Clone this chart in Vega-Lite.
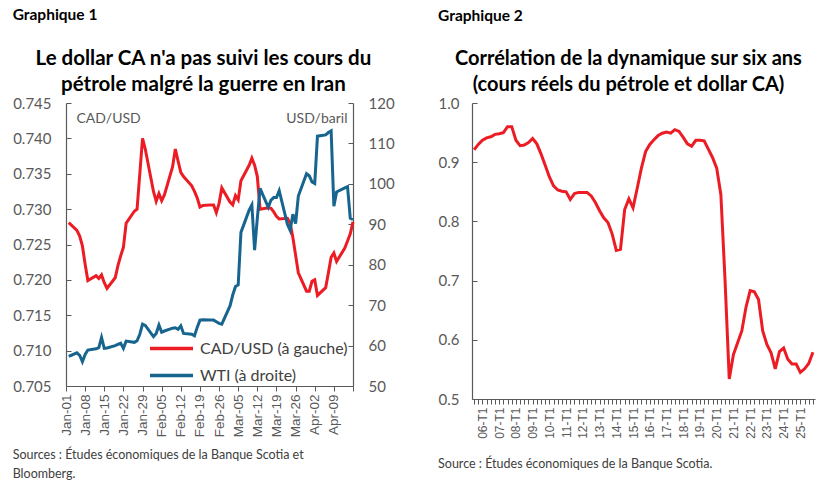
{
  "$schema": "https://vega.github.io/schema/vega-lite/v6.json",
  "background": "white",
  "padding": {"left": 12, "top": 8, "right": 4, "bottom": 0},
  "spacing": 43,
  "datasets": {
    "fx": [
      {"d": "2026-01-02", "cad": 0.7281, "wti": 57.3},
      {"d": "2026-01-05", "cad": 0.7270, "wti": 58.2},
      {"d": "2026-01-06", "cad": 0.7262, "wti": 57.6},
      {"d": "2026-01-07", "cad": 0.7248, "wti": 56.0},
      {"d": "2026-01-08", "cad": 0.7222, "wti": 57.8},
      {"d": "2026-01-09", "cad": 0.7199, "wti": 58.9},
      {"d": "2026-01-12", "cad": 0.7206, "wti": 59.2},
      {"d": "2026-01-13", "cad": 0.7202, "wti": 59.5},
      {"d": "2026-01-14", "cad": 0.7207, "wti": 62.0},
      {"d": "2026-01-15", "cad": 0.7196, "wti": 59.3},
      {"d": "2026-01-16", "cad": 0.7188, "wti": 59.4},
      {"d": "2026-01-19", "cad": 0.7203, "wti": 60.0},
      {"d": "2026-01-20", "cad": 0.7220, "wti": 60.3},
      {"d": "2026-01-21", "cad": 0.7234, "wti": 60.6},
      {"d": "2026-01-22", "cad": 0.7246, "wti": 59.3},
      {"d": "2026-01-23", "cad": 0.7280, "wti": 61.1},
      {"d": "2026-01-26", "cad": 0.7297, "wti": 60.8},
      {"d": "2026-01-27", "cad": 0.7300, "wti": 61.2},
      {"d": "2026-01-28", "cad": 0.7350, "wti": 62.8},
      {"d": "2026-01-29", "cad": 0.7400, "wti": 65.3},
      {"d": "2026-01-30", "cad": 0.7385, "wti": 65.0},
      {"d": "2026-02-02", "cad": 0.7325, "wti": 62.2},
      {"d": "2026-02-03", "cad": 0.7311, "wti": 63.0},
      {"d": "2026-02-04", "cad": 0.7322, "wti": 65.1},
      {"d": "2026-02-05", "cad": 0.7312, "wti": 63.3},
      {"d": "2026-02-06", "cad": 0.7320, "wti": 63.6},
      {"d": "2026-02-09", "cad": 0.7360, "wti": 64.3},
      {"d": "2026-02-10", "cad": 0.7385, "wti": 64.4},
      {"d": "2026-02-11", "cad": 0.7368, "wti": 64.0},
      {"d": "2026-02-12", "cad": 0.7352, "wti": 64.9},
      {"d": "2026-02-13", "cad": 0.7346, "wti": 63.0},
      {"d": "2026-02-16", "cad": 0.7333, "wti": 62.8},
      {"d": "2026-02-17", "cad": 0.7325, "wti": 62.4},
      {"d": "2026-02-18", "cad": 0.7316, "wti": 64.5},
      {"d": "2026-02-19", "cad": 0.7303, "wti": 66.3},
      {"d": "2026-02-20", "cad": 0.7305, "wti": 66.4},
      {"d": "2026-02-23", "cad": 0.7306, "wti": 66.3},
      {"d": "2026-02-24", "cad": 0.7306, "wti": 66.3},
      {"d": "2026-02-25", "cad": 0.7295, "wti": 65.9},
      {"d": "2026-02-26", "cad": 0.7308, "wti": 65.5},
      {"d": "2026-02-27", "cad": 0.7330, "wti": 65.3},
      {"d": "2026-03-02", "cad": 0.7310, "wti": 69.8},
      {"d": "2026-03-03", "cad": 0.7306, "wti": 72.5},
      {"d": "2026-03-04", "cad": 0.7319, "wti": 74.6},
      {"d": "2026-03-05", "cad": 0.7313, "wti": 75.0},
      {"d": "2026-03-06", "cad": 0.7340, "wti": 88.0},
      {"d": "2026-03-09", "cad": 0.7362, "wti": 93.5},
      {"d": "2026-03-10", "cad": 0.7372, "wti": 94.8},
      {"d": "2026-03-11", "cad": 0.7362, "wti": 83.6},
      {"d": "2026-03-12", "cad": 0.7346, "wti": 91.5},
      {"d": "2026-03-13", "cad": 0.7300, "wti": 98.9},
      {"d": "2026-03-16", "cad": 0.7302, "wti": 94.2},
      {"d": "2026-03-17", "cad": 0.7301, "wti": 96.0},
      {"d": "2026-03-18", "cad": 0.7296, "wti": 96.6},
      {"d": "2026-03-19", "cad": 0.7290, "wti": 96.6},
      {"d": "2026-03-20", "cad": 0.7286, "wti": 98.3},
      {"d": "2026-03-23", "cad": 0.7287, "wti": 90.0},
      {"d": "2026-03-24", "cad": 0.7280, "wti": 88.5},
      {"d": "2026-03-25", "cad": 0.7260, "wti": 92.5},
      {"d": "2026-03-26", "cad": 0.7235, "wti": 90.2},
      {"d": "2026-03-27", "cad": 0.7210, "wti": 97.0},
      {"d": "2026-03-30", "cad": 0.7184, "wti": 102.5},
      {"d": "2026-03-31", "cad": 0.7184, "wti": 102.0},
      {"d": "2026-04-01", "cad": 0.7198, "wti": 100.5},
      {"d": "2026-04-02", "cad": 0.7200, "wti": 100.1},
      {"d": "2026-04-03", "cad": 0.7178, "wti": 111.8},
      {"d": "2026-04-06", "cad": 0.7189, "wti": 112.1},
      {"d": "2026-04-07", "cad": 0.7210, "wti": 112.7},
      {"d": "2026-04-08", "cad": 0.7232, "wti": 113.1},
      {"d": "2026-04-09", "cad": 0.7238, "wti": 94.5},
      {"d": "2026-04-10", "cad": 0.7226, "wti": 98.0},
      {"d": "2026-04-13", "cad": 0.7245, "wti": 99.0},
      {"d": "2026-04-14", "cad": 0.7255, "wti": 99.3},
      {"d": "2026-04-15", "cad": 0.7265, "wti": 91.5},
      {"d": "2026-04-16", "cad": 0.7282, "wti": 91.2}
    ],
    "corr": [
      {"q": "05-T3", "r": 0.921}, {"q": "05-T4", "r": 0.930},
      {"q": "06-T1", "r": 0.937}, {"q": "06-T2", "r": 0.941}, {"q": "06-T3", "r": 0.943}, {"q": "06-T4", "r": 0.947},
      {"q": "07-T1", "r": 0.948}, {"q": "07-T2", "r": 0.950}, {"q": "07-T3", "r": 0.960}, {"q": "07-T4", "r": 0.960},
      {"q": "08-T1", "r": 0.937}, {"q": "08-T2", "r": 0.928}, {"q": "08-T3", "r": 0.929}, {"q": "08-T4", "r": 0.933},
      {"q": "09-T1", "r": 0.940}, {"q": "09-T2", "r": 0.931}, {"q": "09-T3", "r": 0.914}, {"q": "09-T4", "r": 0.895},
      {"q": "10-T1", "r": 0.875}, {"q": "10-T2", "r": 0.860}, {"q": "10-T3", "r": 0.853}, {"q": "10-T4", "r": 0.851},
      {"q": "11-T1", "r": 0.850}, {"q": "11-T2", "r": 0.837}, {"q": "11-T3", "r": 0.847}, {"q": "11-T4", "r": 0.849},
      {"q": "12-T1", "r": 0.849}, {"q": "12-T2", "r": 0.849}, {"q": "12-T3", "r": 0.843}, {"q": "12-T4", "r": 0.832},
      {"q": "13-T1", "r": 0.818}, {"q": "13-T2", "r": 0.806}, {"q": "13-T3", "r": 0.798}, {"q": "13-T4", "r": 0.779},
      {"q": "14-T1", "r": 0.751}, {"q": "14-T2", "r": 0.753}, {"q": "14-T3", "r": 0.820}, {"q": "14-T4", "r": 0.838},
      {"q": "15-T1", "r": 0.823}, {"q": "15-T2", "r": 0.856}, {"q": "15-T3", "r": 0.890}, {"q": "15-T4", "r": 0.918},
      {"q": "16-T1", "r": 0.930}, {"q": "16-T2", "r": 0.938}, {"q": "16-T3", "r": 0.945}, {"q": "16-T4", "r": 0.949},
      {"q": "17-T1", "r": 0.951}, {"q": "17-T2", "r": 0.949}, {"q": "17-T3", "r": 0.955}, {"q": "17-T4", "r": 0.952},
      {"q": "18-T1", "r": 0.942}, {"q": "18-T2", "r": 0.931}, {"q": "18-T3", "r": 0.927}, {"q": "18-T4", "r": 0.937},
      {"q": "19-T1", "r": 0.937}, {"q": "19-T2", "r": 0.936}, {"q": "19-T3", "r": 0.922}, {"q": "19-T4", "r": 0.908},
      {"q": "20-T1", "r": 0.890}, {"q": "20-T2", "r": 0.845}, {"q": "20-T3", "r": 0.700}, {"q": "20-T4", "r": 0.534},
      {"q": "21-T1", "r": 0.575}, {"q": "21-T2", "r": 0.595}, {"q": "21-T3", "r": 0.615}, {"q": "21-T4", "r": 0.655},
      {"q": "22-T1", "r": 0.683}, {"q": "22-T2", "r": 0.681}, {"q": "22-T3", "r": 0.668}, {"q": "22-T4", "r": 0.615},
      {"q": "23-T1", "r": 0.592}, {"q": "23-T2", "r": 0.578}, {"q": "23-T3", "r": 0.551}, {"q": "23-T4", "r": 0.580},
      {"q": "24-T1", "r": 0.586}, {"q": "24-T2", "r": 0.567}, {"q": "24-T3", "r": 0.559}, {"q": "24-T4", "r": 0.559},
      {"q": "25-T1", "r": 0.545}, {"q": "25-T2", "r": 0.551}, {"q": "25-T3", "r": 0.560}, {"q": "25-T4", "r": 0.579}
    ]
  },
  "hconcat": [
    {
      "title": {"text": "Graphique 1", "anchor": "start", "frame": "bounds", "fontSize": 15.5, "font": "Lato", "fontWeight": "bold", "color": "#000000", "offset": 25},
      "vconcat": [
        {
          "title": {"text": ["Sources : Études économiques de la Banque Scotia et", "Bloomberg."], "orient": "bottom", "anchor": "start", "frame": "bounds", "fontSize": 12.5, "font": "Lato", "fontWeight": "normal", "color": "#404040", "lineHeight": 19, "offset": 12},
          "vconcat": [
            {
              "width": 287,
              "height": 283,
              "title": {"text": ["Le dollar CA n'a pas suivi les cours du", "pétrole malgré la guerre en Iran"], "anchor": "middle", "frame": "bounds", "fontSize": 20.5, "font": "Lato", "fontWeight": "bold", "color": "#000000", "lineHeight": 26, "offset": 1},
              "data": {"name": "fx", "format": {"parse": {"d": "date:'%Y-%m-%d'"}}},
              "layer": [
                {
                  "mark": {"type": "line", "strokeWidth": 3},
                  "encoding": {
                    "x": {
                      "field": "d", "type": "temporal",
                      "scale": {"domain": [{"year": 2026, "month": 1, "date": 1}, {"year": 2026, "month": 4, "date": 16}]},
                      "axis": {
                        "title": null,
                        "values": [
                          {"year": 2026, "month": 1, "date": 1}, {"year": 2026, "month": 1, "date": 8}, {"year": 2026, "month": 1, "date": 15},
                          {"year": 2026, "month": 1, "date": 22}, {"year": 2026, "month": 1, "date": 29}, {"year": 2026, "month": 2, "date": 5},
                          {"year": 2026, "month": 2, "date": 12}, {"year": 2026, "month": 2, "date": 19}, {"year": 2026, "month": 2, "date": 26},
                          {"year": 2026, "month": 3, "date": 5}, {"year": 2026, "month": 3, "date": 12}, {"year": 2026, "month": 3, "date": 19},
                          {"year": 2026, "month": 3, "date": 26}, {"year": 2026, "month": 4, "date": 2}, {"year": 2026, "month": 4, "date": 9},
                          {"year": 2026, "month": 4, "date": 16}
                        ],
                        "tickCount": 30,
                        "labelExpr": "datum.value >= datetime(2026, 3, 15) ? '' : timeFormat(datum.value, '%b-%d')",
                        "labelAngle": -90,
                        "labelOverlap": false,
                        "labelBound": false,
                        "labelFont": "Liberation Sans",
                        "labelFontSize": 13.5,
                        "tickSize": 5,
                        "labelPadding": 3
                      }
                    },
                    "y": {
                      "field": "cad", "type": "quantitative",
                      "scale": {"domain": [0.705, 0.745], "zero": false, "nice": false},
                      "axis": {
                        "orient": "left",
                        "values": [0.705, 0.71, 0.715, 0.72, 0.725, 0.73, 0.735, 0.74, 0.745],
                        "format": ".3f",
                        "title": "CAD/USD",
                        "titleAngle": 0,
                        "titleAlign": "left",
                        "titleBaseline": "top",
                        "titleX": 10,
                        "titleY": 8,
                        "tickSize": -5,
                        "labelFontSize": 15,
                        "labelPadding": 20
                      }
                    },
                    "color": {
                      "datum": "CAD/USD (à gauche)", "type": "nominal",
                      "scale": {"domain": ["CAD/USD (à gauche)", "WTI (à droite)"], "range": ["#EC1C24", "#17658E"]},
                      "legend": {
                        "title": null,
                        "orient": "none",
                        "legendX": 82,
                        "legendY": 233,
                        "symbolType": "stroke",
                        "symbolSize": 1849,
                        "symbolStrokeWidth": 3.5,
                        "clipHeight": 25,
                        "labelFont": "Lato",
                        "labelFontSize": 16,
                        "labelColor": "#404040",
                        "labelOffset": 5,
                        "rowPadding": 2
                      }
                    }
                  }
                },
                {
                  "mark": {"type": "line", "strokeWidth": 3},
                  "encoding": {
                    "x": {"field": "d", "type": "temporal"},
                    "y": {
                      "field": "wti", "type": "quantitative",
                      "scale": {"domain": [50, 120], "zero": false, "nice": false},
                      "axis": {
                        "orient": "right",
                        "values": [50, 60, 70, 80, 90, 100, 110, 120],
                        "title": "USD/baril",
                        "titleAngle": 0,
                        "titleAlign": "right",
                        "titleBaseline": "top",
                        "titleX": -6,
                        "titleY": 8,
                        "tickSize": -5,
                        "labelFontSize": 15,
                        "labelPadding": 20
                      }
                    },
                    "color": {"datum": "WTI (à droite)", "type": "nominal"}
                  }
                }
              ],
              "resolve": {"scale": {"y": "independent"}}
            }
          ]
        }
      ]
    },
    {
      "title": {"text": "Graphique 2", "anchor": "start", "frame": "bounds", "fontSize": 15.5, "font": "Lato", "fontWeight": "bold", "color": "#000000", "offset": 25},
      "vconcat": [
        {
          "title": {"text": "Source : Études économiques de la Banque Scotia.", "orient": "bottom", "anchor": "start", "frame": "bounds", "fontSize": 12.5, "font": "Lato", "fontWeight": "normal", "color": "#404040", "offset": 20},
          "vconcat": [
            {
              "width": 343,
              "height": 296,
              "title": {"text": ["Corrélation de la dynamique sur six ans", "(cours réels du pétrole et dollar CA)"], "anchor": "middle", "frame": "bounds", "fontSize": 20, "font": "Lato", "fontWeight": "bold", "color": "#000000", "lineHeight": 26, "offset": 1},
              "data": {"name": "corr"},
              "mark": {"type": "line", "strokeWidth": 3, "color": "#EC1C24"},
              "encoding": {
                "x": {
                  "field": "q", "type": "ordinal", "sort": null,
                  "scale": {"type": "point", "padding": 0.5},
                  "axis": {
                    "title": null,
                    "labelExpr": "indexof(datum.label, 'T1') >= 0 ? datum.label : ''",
                    "labelAngle": -90,
                    "labelFont": "Liberation Sans",
                    "labelFontSize": 12,
                    "tickSize": 5,
                    "labelPadding": 3
                  }
                },
                "y": {
                  "field": "r", "type": "quantitative",
                  "scale": {"domain": [0.5, 1.0], "zero": false, "nice": false},
                  "axis": {
                    "title": null,
                    "values": [0.5, 0.6, 0.7, 0.8, 0.9, 1.0],
                    "format": ".1f",
                    "tickSize": -5,
                    "labelFontSize": 15,
                    "labelPadding": 18
                  }
                }
              }
            }
          ]
        }
      ]
    }
  ],
  "config": {
    "view": {"stroke": null},
    "axis": {
      "grid": false,
      "domainColor": "#595959",
      "tickColor": "#595959",
      "labelColor": "#595959",
      "labelFont": "Lato",
      "labelFontSize": 14,
      "titleFont": "Lato",
      "titleFontSize": 14,
      "titleFontWeight": "normal",
      "titleColor": "#595959",
      "domainWidth": 1.2,
      "tickWidth": 1
    },
    "axisX": {"labelOverlap": false}
  }
}
